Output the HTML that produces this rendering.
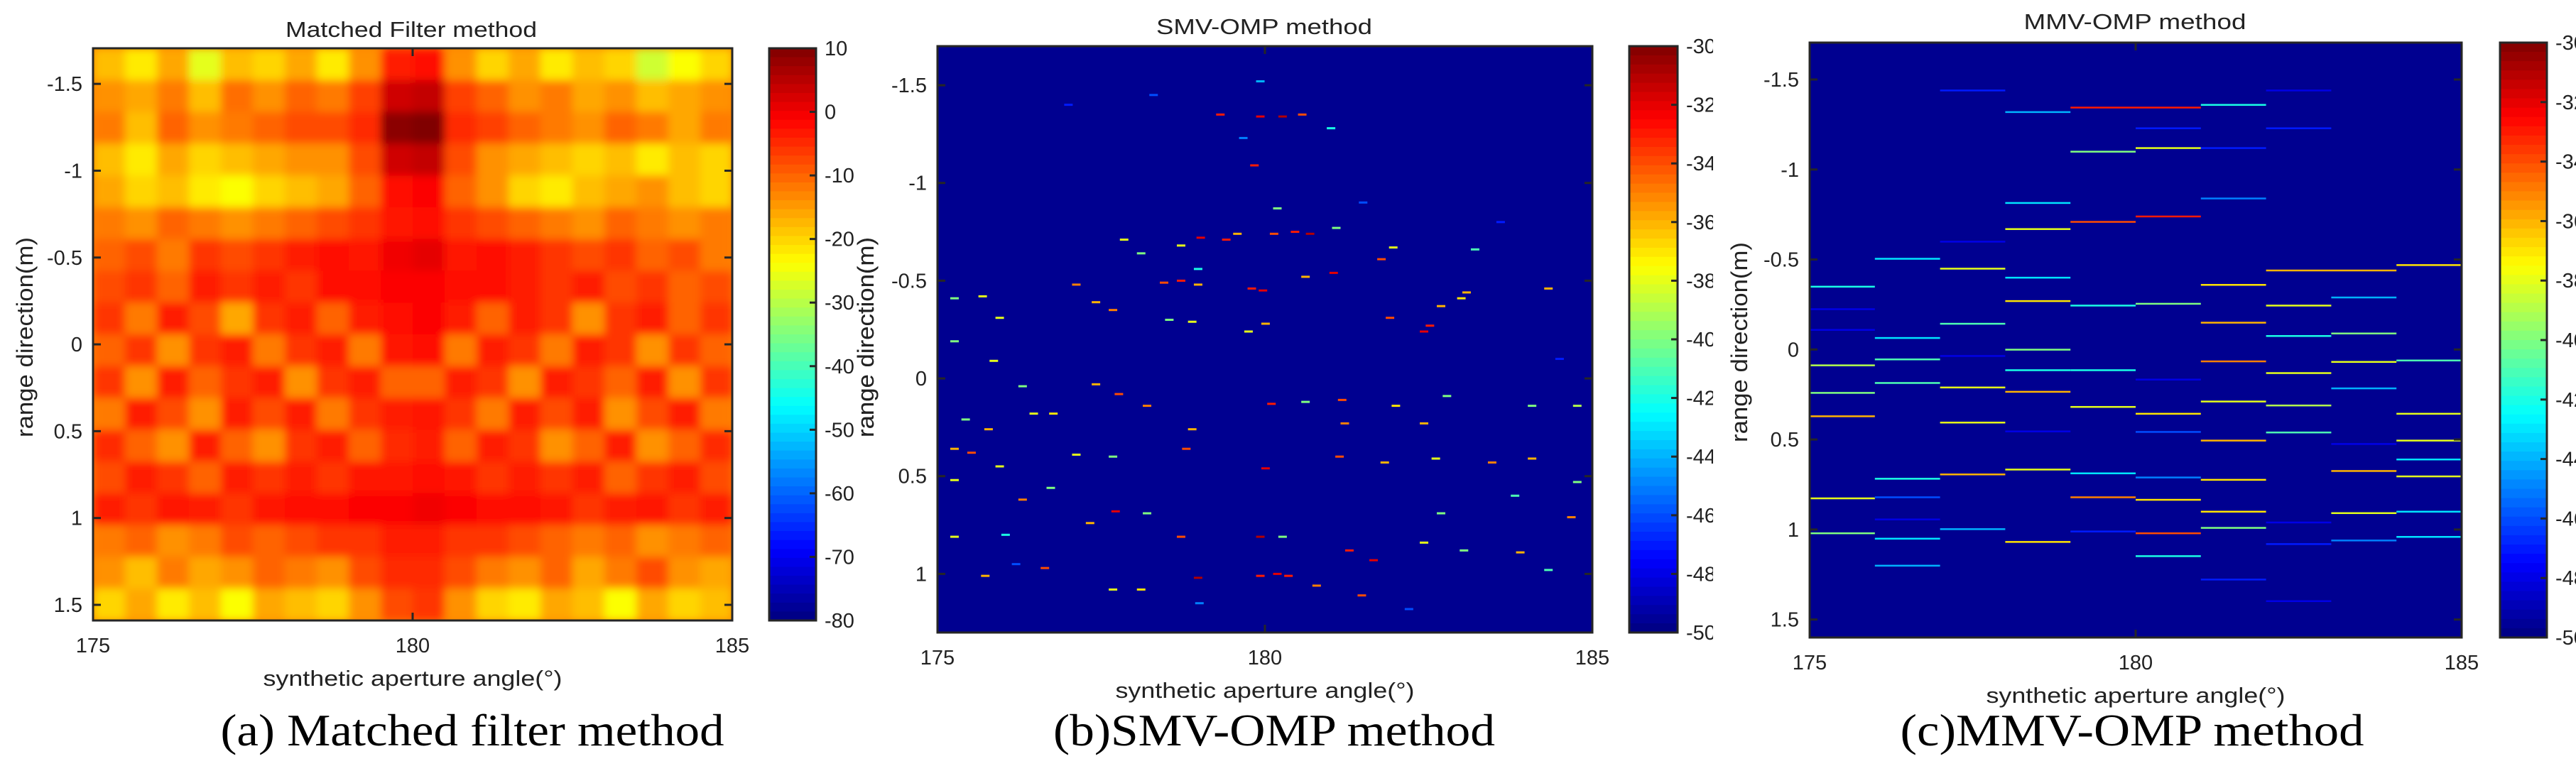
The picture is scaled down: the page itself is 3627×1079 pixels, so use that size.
<!DOCTYPE html>
<html><head><meta charset="utf-8"><style>
html,body{margin:0;padding:0;background:#fff;}
svg{display:block;}
text{font-family:"Liberation Sans",sans-serif;fill:#222;}
.cap{font-family:"Liberation Serif",serif;fill:#000;}
</style></head><body>
<svg id="fig" width="3627" height="1079" viewBox="0 0 3627 1079" xmlns="http://www.w3.org/2000/svg">
<defs>
<filter id="blur" x="0" y="0" width="1" height="1"><feGaussianBlur stdDeviation="6" edgeMode="duplicate"/></filter>
<clipPath id="clipA"><rect x="131" y="68" width="900" height="806"/></clipPath>
<clipPath id="clipB"><rect x="0" y="0" width="2412" height="1079"/></clipPath>
</defs>
</svg>
<script>
// ---- Panel (a) data: matched filter magnitude (dB), 20 angle cols x 18 range rows ----
const aAngles = [175,176,177,178,179,180,181,182,183,184,185];
const aRange = [-1.5,-1,-0.5,0,0.5,1,1.5];
const aCbarTicks = [10,0,-10,-20,-30,-40,-50,-60,-70,-80];
const aGrid = [
[-18,-22,-16,-26,-18,-20,-16,-22,-14,-4,-2,-14,-20,-16,-22,-18,-20,-28,-24,-20],
[-14,-16,-12,-18,-11,-14,-10,-12,-7,3,4,-7,-10,-14,-12,-16,-14,-18,-16,-14],
[-12,-18,-10,-14,-12,-10,-8,-8,-5,9,10,-5,-7,-10,-12,-14,-10,-12,-16,-12],
[-18,-22,-16,-20,-18,-16,-14,-14,-8,3,4,-8,-14,-16,-18,-20,-18,-22,-18,-20],
[-16,-20,-18,-22,-24,-20,-18,-16,-10,-2,-1,-10,-14,-20,-22,-18,-16,-14,-18,-20],
[-12,-14,-10,-12,-14,-12,-10,-8,-6,-3,-2,-6,-8,-10,-12,-14,-10,-12,-14,-12],
[-10,-8,-12,-6,-8,-6,-4,-2,-3,0,1,-3,-2,-4,-6,-8,-6,-10,-8,-12],
[-8,-6,-10,-4,-6,-4,-6,-2,-2,-1,-1,-2,-2,-4,-6,-4,-8,-6,-10,-8],
[-6,-12,-4,-8,-16,-6,-4,-10,-4,-2,-1,-4,-10,-4,-6,-14,-6,-4,-10,-6],
[-10,-6,-14,-6,-4,-12,-6,-4,-12,-3,-2,-12,-4,-6,-12,-4,-6,-14,-6,-10],
[-6,-14,-4,-10,-6,-4,-14,-6,-4,-10,-10,-4,-6,-14,-4,-6,-10,-4,-14,-6],
[-12,-4,-8,-14,-4,-8,-4,-12,-6,-4,-3,-6,-12,-4,-8,-4,-14,-8,-4,-12],
[-5,-10,-14,-4,-10,-14,-6,-4,-10,-5,-4,-10,-4,-6,-14,-10,-4,-14,-10,-5],
[-8,-4,-6,-10,-4,-6,-4,-6,-3,-3,-2,-3,-6,-4,-6,-4,-10,-6,-4,-8],
[-4,-6,-3,-4,-6,-3,-2,-2,-1,-1,0,-1,-2,-2,-3,-6,-4,-3,-6,-4],
[-12,-10,-14,-12,-8,-10,-8,-6,-6,-4,-4,-6,-6,-8,-10,-12,-10,-14,-12,-10],
[-14,-18,-12,-16,-14,-10,-12,-14,-8,-5,-5,-8,-12,-14,-10,-16,-12,-8,-14,-16],
[-20,-16,-22,-18,-24,-16,-18,-20,-14,-8,-6,-14,-20,-22,-16,-18,-24,-16,-20,-18]
];
// ---- Panel (b) data: SMV-OMP sparse points [angle deg, range m, dB] ----
const bX = [179.93,179.32,179.93,180.27,180.57,181.01,179.84,179.67,180.19,179.02,179.41,179.58,180.14,180.46,180.69,181.09,177.85,178.11,178.72,178.98,178.46,178.72,178.98,179.80,179.97,180.62,181.05,181.78,181.96,183.21,183.00,183.08,182.69,182.52,182.43,181.91,184.33,175.26,175.69,175.95,177.12,177.42,177.68,178.54,178.89,179.75,180.01,175.43,175.78,176.47,176.77,177.42,177.77,178.20,178.89,180.10,180.62,181.18,181.22,182.00,182.43,182.78,184.08,184.77,175.26,175.52,175.95,177.12,177.68,178.80,180.01,181.14,181.83,182.61,183.47,184.08,184.77,175.26,176.30,176.73,177.33,177.72,178.20,178.72,179.93,180.27,181.29,181.66,182.43,183.04,183.90,184.68,175.73,176.64,177.68,178.11,178.98,179.93,180.19,180.36,180.79,181.48,184.33,182.69,183.82,175.26,175.86,176.30,175.26,176.04,177.0,178.3,181.5,183.6,176.2,184.5,179.0,182.2];
const bY = [-1.52,-1.35,-1.34,-1.34,-1.35,-1.28,-1.09,-1.23,-0.87,-0.72,-0.71,-0.74,-0.74,-0.75,-0.74,-0.77,-0.71,-0.64,-0.68,-0.56,-0.49,-0.50,-0.48,-0.46,-0.45,-0.52,-0.54,-0.61,-0.67,-0.66,-0.41,-0.44,-0.37,-0.27,-0.24,-0.31,-0.46,-0.41,-0.42,-0.31,-0.48,-0.39,-0.35,-0.30,-0.29,-0.24,-0.28,0.21,0.26,0.18,0.18,0.03,0.08,0.14,0.26,0.13,0.12,0.11,0.23,0.14,0.23,0.09,0.14,0.14,0.36,0.38,0.45,0.39,0.40,0.36,0.46,0.40,0.43,0.41,0.43,0.41,0.53,0.52,0.62,0.56,0.74,0.68,0.69,0.81,0.81,0.81,0.88,0.93,0.84,0.88,0.89,0.71,1.01,0.97,1.08,1.08,1.02,1.01,1.00,1.01,1.06,1.11,0.98,0.69,0.60,-0.19,-0.09,0.04,0.81,0.80,-1.40,-1.45,-0.90,-0.80,0.95,-0.10,1.15,1.18];
const bV = [-44,-33,-32,-31,-34,-42,-33,-45,-40,-32,-33,-36,-34,-33,-31,-40,-38,-40,-38,-42,-34,-33,-36,-33,-32,-36,-32,-34,-38,-41,-37,-36,-36,-33,-32,-34,-36,-40,-38,-38,-35,-36,-35,-40,-38,-38,-36,-40,-36,-38,-37,-36,-34,-35,-36,-33,-40,-34,-35,-37,-36,-40,-40,-39,-36,-34,-38,-38,-40,-34,-32,-34,-36,-38,-35,-36,-40,-38,-35,-40,-36,-32,-40,-34,-31,-40,-33,-32,-38,-40,-36,-35,-36,-34,-38,-37,-31,-33,-32,-33,-35,-34,-41,-40,-41,-40,-38,-40,-38,-42,-47,-46,-46,-47,-46,-47,-45,-46];
// ---- Panel (c) data: MMV-OMP segments [start angle deg, span deg, range m, dB] ----
const cX0 = [177,178,179,181,182,180,182,180,179,181,178,180,179,181,178,175,176,177,177,178,178,179,180,181,182,184,182,183,183,181,182,175,175,176,177,175,176,177,178,178,179,180,181,182,183,184,175,176,177,178,175,177,179,180,181,182,183,184,178,180,181,182,184,183,184,176,177,178,179,180,181,183,184,175,176,179,180,181,183,184,176,175,177,178,179,180,181,182,182,176,184,176,180,181,182,183];
const cW = [1,1,2,1,1,1,1,1,1,1,1,1,1,1,1,1,1,1,1,1,1,1,1,1,2,1,1,1,1,1,1,1,1,1,1,1,1,1,1,1,1,1,1,1,1,1,1,1,1,1,1,1,1,1,1,1,1,1,1,1,1,1,1,1,1,1,1,1,1,1,1,1,1,1,1,1,1,1,1,1,1,1,1,1,1,1,1,1,1,1,1,1,1,1,1,1];
const cY = [-1.44,-1.32,-1.345,-1.36,-1.44,-1.23,-1.23,-1.12,-1.10,-1.12,-0.815,-0.74,-0.71,-0.84,-0.67,-0.35,-0.505,-0.45,-0.60,-0.40,-0.27,-0.245,-0.255,-0.36,-0.44,-0.47,-0.245,-0.29,-0.09,-0.15,-0.076,-0.225,-0.11,-0.065,-0.144,0.087,0.054,0.035,0.0,0.114,0.114,0.166,0.065,0.13,0.068,0.06,0.24,0.185,0.21,0.234,0.37,0.405,0.318,0.356,0.288,0.31,0.215,0.356,0.454,0.457,0.505,0.46,0.505,0.524,0.61,0.717,0.693,0.666,0.687,0.71,0.723,0.674,0.704,0.826,0.82,0.82,0.834,0.90,0.908,0.90,0.943,1.02,0.997,1.068,1.01,1.02,0.99,0.96,1.08,1.05,1.04,1.20,1.147,1.277,1.397,1.06];
const cV = [-47,-44,-33,-42,-48,-47,-47,-38,-40,-47,-43,-33,-34,-45,-38,-42,-43,-38,-48,-43,-37,-42,-40,-37,-36,-37,-38,-44,-40,-36,-42,-48,-48,-43,-41,-39,-41,-48,-40,-42,-42,-48,-35,-38,-38,-41,-40,-41,-38,-36,-36,-38,-38,-37,-38,-39,-44,-38,-48,-46,-36,-41,-38,-48,-43,-42,-36,-38,-43,-45,-37,-36,-38,-38,-46,-35,-37,-37,-38,-43,-48,-40,-44,-37,-47,-34,-40,-48,-47,-43,-43,-44,-42,-47,-48,-45];
const bcTicks = [-30,-32,-34,-36,-38,-40,-42,-44,-46,-48,-50];
const xTicks = [175,180,185];
const yTicks = [-1.5,-1,-0.5,0,0.5,1,1.5];

const NS = 'http://www.w3.org/2000/svg';
const svg = document.getElementById('fig');
function mk(tag, attrs, parent){const e=document.createElementNS(NS,tag);for(const k in attrs)e.setAttribute(k,attrs[k]);(parent||svg).appendChild(e);return e;}
function jet(t){t=Math.max(0,Math.min(1,t));const c=v=>Math.round(255*Math.max(0,Math.min(1,v)));
 return 'rgb('+c(1.5-Math.abs(4*t-3))+','+c(1.5-Math.abs(4*t-2))+','+c(1.5-Math.abs(4*t-1))+')';}

function panel(p){
 const g = mk('g',{},p.parent);
 
 
 const sx = v => p.L + (v-175)/10*(p.R-p.L);
 const sy = v => p.T + (v-p.ymin)/(p.ymax-p.ymin)*(p.B-p.T);
 const bg = mk('rect',{x:p.L,y:p.T,width:p.R-p.L,height:p.B-p.T,fill:p.bg},g);
 
 
 const marks = mk('g',{},g);
 
 
 p.draw(marks, sx, sy);
 const frame = mk('rect',{x:p.L,y:p.T,width:p.R-p.L,height:p.B-p.T,fill:'none',stroke:'#262626','stroke-width':3},g);
 
 
 xTicks.forEach(v=>{
  const x=sx(v);
  mk('line',{x1:x,y1:p.B,x2:x,y2:p.B-11,stroke:'#262626','stroke-width':3},g);
  mk('line',{x1:x,y1:p.T,x2:x,y2:p.T+11,stroke:'#262626','stroke-width':3},g);
  const t=mk('text',{x:x,y:p.B+45,'font-size':29,'text-anchor':'middle'},g);t.textContent=v;
  
  
 });
 yTicks.forEach(v=>{
  const y=sy(v); if(y<p.T-1||y>p.B+1) return;
  mk('line',{x1:p.L,y1:y,x2:p.L+11,y2:y,stroke:'#262626','stroke-width':3},g);
  mk('line',{x1:p.R,y1:y,x2:p.R-11,y2:y,stroke:'#262626','stroke-width':3},g);
  const t=mk('text',{x:p.L-15,y:y+10,'font-size':29,'text-anchor':'end'},g);t.textContent=v;
  
  
 });
 const ti=mk('text',{x:p.titleX,y:p.titleY,'font-size':31,'text-anchor':'middle',textLength:p.titleW,lengthAdjust:'spacingAndGlyphs'},g);ti.textContent=p.title;
 
 
 const xl=mk('text',{x:(p.L+p.R)/2,y:p.xlY,'font-size':31,'text-anchor':'middle',textLength:421,lengthAdjust:'spacingAndGlyphs'},g);xl.textContent='synthetic aperture angle(°)';
 
 
 const yl=mk('text',{x:0,y:0,'font-size':32,'text-anchor':'middle',textLength:282,lengthAdjust:'spacingAndGlyphs',transform:'translate('+(p.ylX)+','+p.ylY+') rotate(-90)'},g);yl.textContent='range direction(m)';
 
 
 const cb=mk('g',{},g);
 
 
 const N=64,h=(p.B-p.T)/N;
 for(let i=0;i<N;i++){mk('rect',{x:p.cbL,y:p.T+i*h,width:p.cbR-p.cbL,height:h+0.6,fill:jet(1-(i+0.5)/N)},cb);}
 mk('rect',{x:p.cbL,y:p.T,width:p.cbR-p.cbL,height:p.B-p.T,fill:'none',stroke:'#262626','stroke-width':3},cb);
 p.cbTicks.forEach(v=>{
  const y=p.T+(p.cmax-v)/(p.cmax-p.cmin)*(p.B-p.T);
  mk('line',{x1:p.cbR,y1:y,x2:p.cbR-9,y2:y,stroke:'#262626','stroke-width':3},cb);
  const t=mk('text',{x:p.cbR+12,y:y+10,'font-size':29},cb);t.textContent=v;
  
  
 });
 if(p.cbLabelX){
  const cl=mk('text',{x:0,y:0,'font-size':32,'text-anchor':'middle',textLength:282,lengthAdjust:'spacingAndGlyphs',transform:'translate('+p.cbLabelX+','+p.ylY+') rotate(-90)'},g);cl.textContent='range direction(m)';
  
  
 }
 const cap=mk('text',{x:p.capX,y:1050,'font-size':64,'class':'cap','text-anchor':'middle',textLength:p.capW,lengthAdjust:'spacingAndGlyphs'},g);cap.textContent=p.cap;
 
 
}

panel({name:'panel-matched-filter',L:131,R:1031,T:68,B:874,ymin:-1.705,ymax:1.59,bg:'#ff8000',
 title:'Matched Filter method',titleX:579,titleY:52,titleW:354,xlY:966,ylX:46,ylY:475,
 cbL:1083,cbR:1149,cbTicks:aCbarTicks,cmax:10,cmin:-80,cbLabelX:1230,
 cap:'(a) Matched filter method',capX:665,capW:709,
 draw:(m,sx,sy)=>{
  const inner=mk('g',{'clip-path':'url(#clipA)'},m);
  const bl=mk('g',{filter:'url(#blur)'},inner);
  const rows=aGrid.length, cols=aGrid[0].length;
  const ys=-1.705, ye=1.59, dy=(ye-ys)/rows, dx=10/cols;
  aGrid.forEach((row,r)=>row.forEach((v,c)=>{
   const x0=sx(175+c*dx), x1=sx(175+(c+1)*dx), y0=sy(ys+r*dy), y1=sy(ys+(r+1)*dy);
   const cell=mk('rect',{x:x0,y:y0,width:x1-x0+0.5,height:y1-y0+0.5,fill:jet((v+80)/90)},bl);
   
   
  }));
 }});

const gb=mk('g',{'clip-path':'url(#clipB)'});
panel({parent:gb,name:'panel-smv-omp',L:1320,R:2242,T:65,B:891,ymin:-1.70,ymax:1.30,bg:'#000090',
 title:'SMV-OMP method',titleX:1780,titleY:48,titleW:304,xlY:983,ylX:1230,ylY:475,
 cbL:2294,cbR:2362,cbTicks:bcTicks,cmax:-30,cmin:-50,cbLabelX:2460,
 cap:'(b)SMV-OMP method',capX:1794,capW:622,
 draw:(m,sx,sy)=>{
  bX.forEach((x,i)=>{
   const d=mk('rect',{x:sx(x)-6,y:sy(bY[i])-1.5,width:sx(x+0.13)-sx(x),height:3,fill:jet((bV[i]+50)/20)},m);
   
   
  });
 }});

const wc=mk('rect',{x:2412,y:0,width:1215,height:1079,fill:'#fff'});


panel({name:'panel-mmv-omp',L:2548,R:3466,T:60,B:898,ymin:-1.705,ymax:1.60,bg:'#000090',
 title:'MMV-OMP method',titleX:3006,titleY:41,titleW:313,xlY:990,ylX:2460,ylY:482,
 cbL:3520,cbR:3586,cbTicks:bcTicks,cmax:-30,cmin:-50,
 cap:'(c)MMV-OMP method',capX:3002,capW:653,
 draw:(m,sx,sy)=>{
  cX0.forEach((x,i)=>{
   const s=mk('rect',{x:sx(x),y:sy(cY[i])-1,width:sx(x+cW[i])-sx(x),height:2.5,fill:jet((cV[i]+50)/20)},m);
   
   
  });
 }});
</script>
</body></html>
